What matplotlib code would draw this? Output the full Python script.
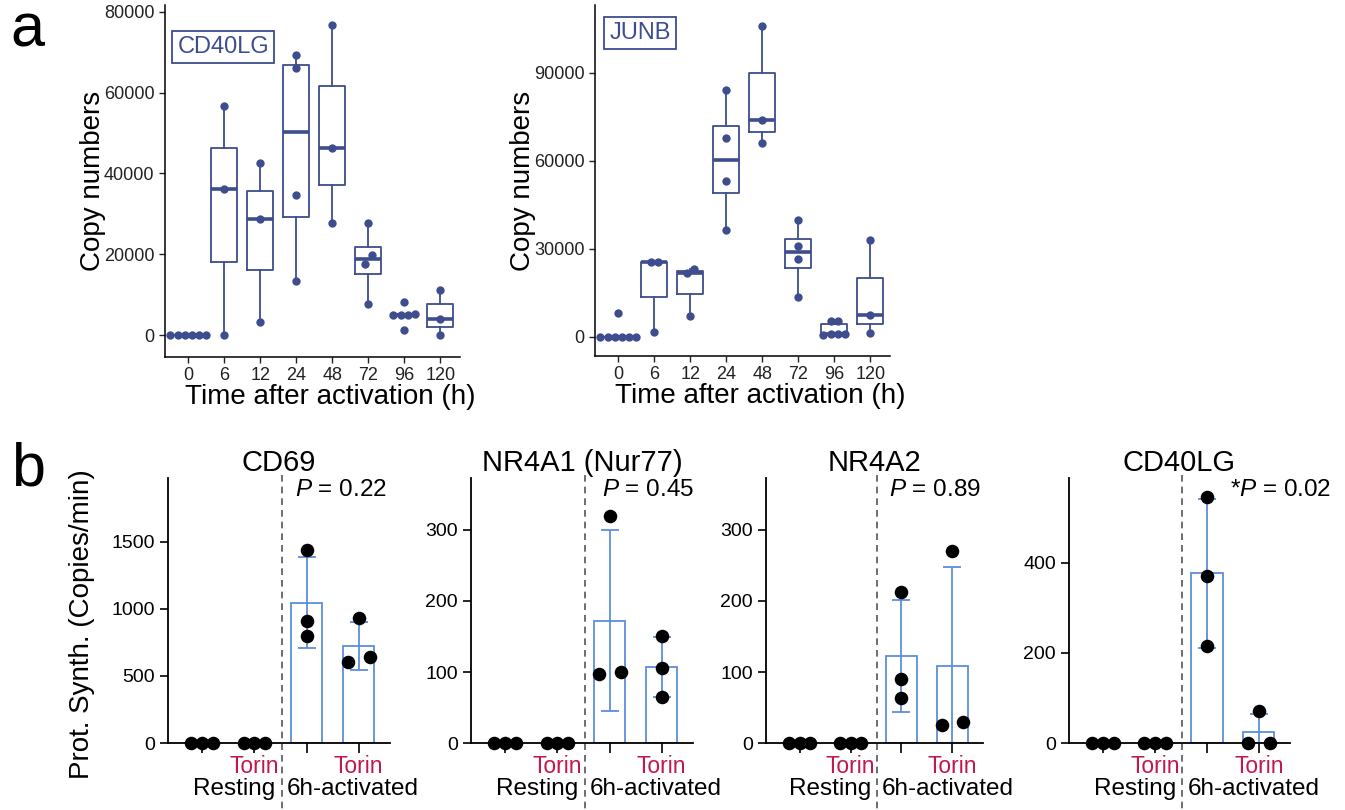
import numpy as np
import matplotlib
matplotlib.use("Agg")
import matplotlib.pyplot as plt

plt.rcParams['font.family'] = ['Liberation Sans', 'DejaVu Sans']
plt.rcParams['mathtext.fontset'] = 'custom'
plt.rcParams['mathtext.it'] = 'Liberation Sans:italic'
plt.rcParams['mathtext.rm'] = 'Liberation Sans'

# ---------------- data: panel a (copy numbers over time) ----------------
time_labels = ["0", "6", "12", "24", "48", "72", "96", "120"]

cd40lg_copies = [
    [0, 0, 0, 0, 0, 0],
    [0, 36200, 56600],
    [3300, 28700, 42700],
    [13400, 34600, 66000, 69200],
    [27700, 46400, 76700],
    [7700, 17700, 19900, 27700],
    [1200, 4900, 5000, 5100, 5200, 8100],
    [0, 4100, 11200],
]
junb_copies = [
    [0, 0, 0, 0, 0, 0, 8000],
    [1700, 25500, 25700],
    [7300, 21800, 23200],
    [36600, 53200, 67700, 84300],
    [66100, 73900, 106000],
    [13750, 26700, 31000, 40000],
    [800, 900, 1000, 1100, 5400, 5500],
    [1500, 7500, 33000],
]
cd40lg_yticks = [0, 20000, 40000, 60000, 80000]
junb_yticks = [0, 30000, 60000, 90000]

# ---------------- data: panel b (protein synthesis) ----------------
genes_b = ["CD69", "NR4A1 (Nur77)", "NR4A2", "CD40LG"]
# groups: Resting, Resting+Torin, 6h-activated, 6h-activated+Torin
cd69_synth = [[0, 0, 0], [0, 0, 0], [1436, 909, 797], [929, 639, 602]]
nr4a1_synth = [[0, 0, 0], [0, 0, 0], [320, 97, 100], [150, 105, 65]]
nr4a2_synth = [[0, 0, 0], [0, 0, 0], [212, 90, 64], [270, 25, 30]]
cd40lg_synth = [[0, 0, 0], [0, 0, 0], [545, 370, 215], [70, 0, 0]]
p_labels = [r"$\it{P}$ = 0.22", r"$\it{P}$ = 0.45", r"$\it{P}$ = 0.89", r"*$\it{P}$ = 0.02"]
yticks_b = [[0, 500, 1000, 1500], [0, 100, 200, 300], [0, 100, 200, 300], [0, 200, 400]]
ylim_top_b = [1975, 373, 373, 587]
cond_labels = ["Resting", "6h-activated"]
torin_label = "Torin"

BLUE_A = "#3E4D8E"
BLUE_B = "#5C8EDB"
RED = "#C3184C"


def spread_offsets(values, tol, step_fn):
    values = np.asarray(values, float)
    order = np.argsort(values, kind="stable")
    offsets = np.zeros(len(values))
    clusters, cur = [], [order[0]]
    for i in order[1:]:
        if values[i] - values[cur[-1]] <= tol:
            cur.append(i)
        else:
            clusters.append(cur)
            cur = [i]
    clusters.append(cur)
    for c in clusters:
        n = len(c)
        if n > 1:
            step = step_fn(n)
            offs = (np.arange(n) - (n - 1) / 2) * step
            for k, idx in enumerate(c):
                offsets[idx] = offs[k]
    return offsets


fig = plt.figure(figsize=(13.45, 8.10), dpi=100)


def panel_a(rect, data, ylim, yticks, name, name_xy, ylab_x):
    ax = fig.add_axes(rect)
    pos = np.arange(len(data))
    ax.boxplot(data, positions=pos, widths=0.72, showcaps=False, showfliers=False,
               boxprops=dict(color=BLUE_A, lw=1.3),
               whiskerprops=dict(color=BLUE_A, lw=1.3),
               medianprops=dict(color=BLUE_A, lw=2.6))
    tol = 0.03 * (ylim[1] - ylim[0])
    for i, vals in enumerate(data):
        off = spread_offsets(vals, tol, lambda n: 0.2)
        ax.scatter(i + off, vals, s=36, color=BLUE_A, lw=0, zorder=3)
    ax.set_xlim(-0.65, 7.55)
    ax.set_ylim(*ylim)
    ax.set_xticks(pos)
    ax.set_xticklabels(time_labels)
    ax.set_yticks(yticks)
    ax.set_yticklabels([str(t) for t in yticks])
    for s in ["top", "right"]:
        ax.spines[s].set_visible(False)
    for s in ["left", "bottom"]:
        ax.spines[s].set_linewidth(1.1)
    ax.tick_params(labelsize=13, length=4, width=1.0, colors="#222222", labelcolor="#222222")
    ax.set_ylabel("Copy numbers", fontsize=20)
    ax.yaxis.set_label_coords(ylab_x, 0.5)
    ax.set_xlabel("Time after activation (h)", fontsize=20)
    ax.xaxis.set_label_coords(0.56, -0.078)
    ax.text(name_xy[0], name_xy[1], name, transform=ax.transAxes, fontsize=17,
            color=BLUE_A, ha="center", va="center",
            bbox=dict(boxstyle="square,pad=0.22", fc="white", ec=BLUE_A, lw=1.3))
    return ax


panel_a([0.1227, 0.5593, 0.2193, 0.4346], cd40lg_copies, (-5400, 81700),
        cd40lg_yticks, "CD40LG", (0.197, 0.88), -0.20)
panel_a([0.4424, 0.5605, 0.2193, 0.4334], junb_copies, (-6500, 113200),
        junb_yticks, "JUNB", (0.153, 0.92), -0.20)

rects_b = [[0.1249, 0.0827, 0.165, 0.327],
           [0.3502, 0.0827, 0.165, 0.327],
           [0.5695, 0.0827, 0.1613, 0.327],
           [0.7948, 0.0827, 0.1643, 0.327]]
data_b = [cd69_synth, nr4a1_synth, nr4a2_synth, cd40lg_synth]
p_x = [1.77, 1.85, 1.75, 2.44]
divider_x = 1.52

for k in range(4):
    ax = fig.add_axes(rects_b[k])
    groups = data_b[k]
    pos = np.arange(4)
    means = [np.mean(g) for g in groups]
    sds = [np.std(g, ddof=1) for g in groups]
    ax.bar(pos, means, width=0.6, facecolor="white", edgecolor=BLUE_B, lw=1.3, zorder=1)
    ax.errorbar(pos, means, yerr=sds, fmt="none", ecolor=BLUE_B, elinewidth=1.3,
                capsize=6.5, capthick=1.3, zorder=2)
    ytop = ylim_top_b[k]
    tol = 0.05 * ytop
    for i, vals in enumerate(groups):
        off = spread_offsets(vals, tol, lambda n: 0.42 / (n - 1))
        ax.scatter(i + off, vals, s=95, color="black", lw=0, zorder=5, clip_on=False)
    ax.set_xlim(-0.66, 3.6)
    ax.set_ylim(0, ytop)
    ax.set_yticks(yticks_b[k])
    ax.set_yticklabels([str(t) for t in yticks_b[k]])
    ax.set_xticks(pos)
    ax.set_xticklabels([])
    for s in ["top", "right"]:
        ax.spines[s].set_visible(False)
    for s in ["left", "bottom"]:
        ax.spines[s].set_linewidth(1.3)
        ax.spines[s].set_zorder(3)
    ax.tick_params(axis="y", labelsize=14, length=6, width=1.2)
    ax.tick_params(axis="x", length=7, width=1.2)
    ax.set_title(genes_b[k], fontsize=21, pad=5)
    ax.text(p_x[k], 0.955, p_labels[k], transform=ax.get_xaxis_transform(),
            fontsize=17.5, ha="left", va="center")
    ax.plot([divider_x, divider_x], [1.01, -0.25], transform=ax.get_xaxis_transform(),
            color="#555555", lw=1.2, ls=(0, (4, 3)), clip_on=False, zorder=1)
    xt = ax.get_xaxis_transform()
    ax.text(1, -0.088, torin_label, transform=xt, color=RED, fontsize=16.5,
            ha="center", va="center")
    ax.text(3, -0.088, torin_label, transform=xt, color=RED, fontsize=16.5,
            ha="center", va="center")
    ax.text(divider_x - 0.12, -0.172, cond_labels[0], transform=xt, fontsize=17.5,
            ha="right", va="center")
    ax.text(divider_x + 0.1, -0.172, cond_labels[1], transform=xt, fontsize=17.5,
            ha="left", va="center")
    if k == 0:
        ax.set_ylabel("Prot. Synth. (Copies/min)", fontsize=20)
        ax.yaxis.set_label_coords(-0.33, 0.45)

fig.text(0.008, 0.942, "a", fontsize=44, va="baseline", ha="left")
fig.text(0.008, 0.401, "b", fontsize=44, va="baseline", ha="left")

fig.savefig("out.png", dpi=100)
